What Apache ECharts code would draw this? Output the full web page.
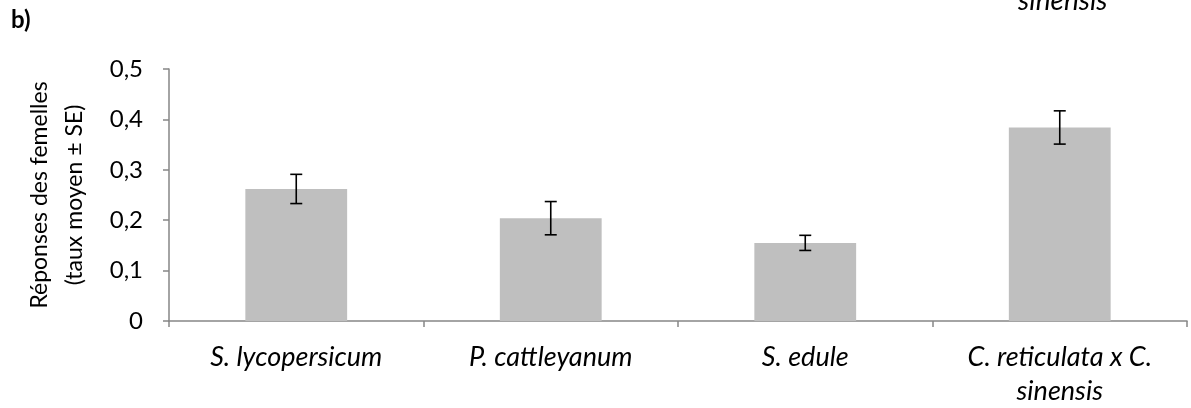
<!DOCTYPE html>
<html><head><meta charset="utf-8">
<script src="https://cdn.jsdelivr.net/npm/echarts@6/dist/echarts.min.js"></script>
<style>html,body{margin:0;padding:0;background:#fff}#c{width:1191px;height:408px}</style>
</head><body><div id="c"></div>
<script>
const categories = ['S. lycopersicum', 'P. cattleyanum', 'S. edule', 'C. reticulata x C.\nsinensis'];
const means = [0.262, 0.204, 0.155, 0.384];
const errors = [0.029, 0.033, 0.015, 0.033];
const yTicks = [0, 0.1, 0.2, 0.3, 0.4, 0.5];

const FONT = 'Lato';
const chart = echarts.init(document.getElementById('c'), null, {renderer: 'canvas'});
chart.setOption({
  animation: false,
  backgroundColor: '#fff',
  textStyle: {fontFamily: FONT},
  grid: {left: 169, right: 4, top: 69, bottom: 87, containLabel: false},
  graphic: [
    {type: 'text', style: {x: 11, y: 8, text: 'b)', fontSize: 24, fontWeight: 'bold', fontFamily: FONT, fill: '#000', verticalAlign: 'top'}},
    {type: 'text', style: {x: 1018, y: 15, text: 'sinensis', fontSize: 28, fontStyle: 'italic', fontFamily: FONT, fill: '#000', verticalAlign: 'bottom'}}
  ],
  xAxis: {
    type: 'category',
    data: categories,
    axisLine: {lineStyle: {color: '#868686', width: 1.5}},
    axisTick: {show: true, length: 6, alignWithLabel: false, lineStyle: {color: '#868686', width: 1.5}},
    axisLabel: {color: '#000', fontSize: 27, fontStyle: 'italic', margin: 19, lineHeight: 34, interval: 0}
  },
  yAxis: {
    type: 'value',
    min: 0, max: 0.5, interval: 0.1,
    name: 'Réponses des femelles\n(taux moyen ± SE)',
    nameLocation: 'middle',
    nameGap: 77,
    nameMoveOverlap: false,
    nameTextStyle: {color: '#000', fontSize: 23, lineHeight: 35},
    splitLine: {show: false},
    axisLine: {show: true, lineStyle: {color: '#868686', width: 1.5}},
    axisTick: {show: true, length: 6, lineStyle: {color: '#868686', width: 1.5}},
    axisLabel: {color: '#000', fontSize: 24, margin: 26,
      formatter: v => { const t = yTicks.find(x => Math.abs(x - v) < 1e-9); return (t === 0 ? '0' : t.toFixed(1).replace('.', ',')); }}
  },
  series: [
    {
      type: 'bar',
      data: means,
      barWidth: '40%',
      itemStyle: {color: '#bfbfbf'},
      z: 2
    },
    {
      type: 'custom',
      z: 3,
      data: means.map((m, i) => [i, m - errors[i], m + errors[i]]),
      renderItem: function (params, api) {
        const i = api.value(0);
        const lo = api.coord([i, api.value(1)]);
        const hi = api.coord([i, api.value(2)]);
        const hw = 6;
        const style = {stroke: '#000', lineWidth: 1.6};
        return {
          type: 'group',
          children: [
            {type: 'line', shape: {x1: hi[0], y1: hi[1], x2: lo[0], y2: lo[1]}, style},
            {type: 'line', shape: {x1: hi[0] - hw, y1: hi[1], x2: hi[0] + hw, y2: hi[1]}, style},
            {type: 'line', shape: {x1: lo[0] - hw, y1: lo[1], x2: lo[0] + hw, y2: lo[1]}, style}
          ]
        };
      }
    }
  ]
});
</script></body></html>
